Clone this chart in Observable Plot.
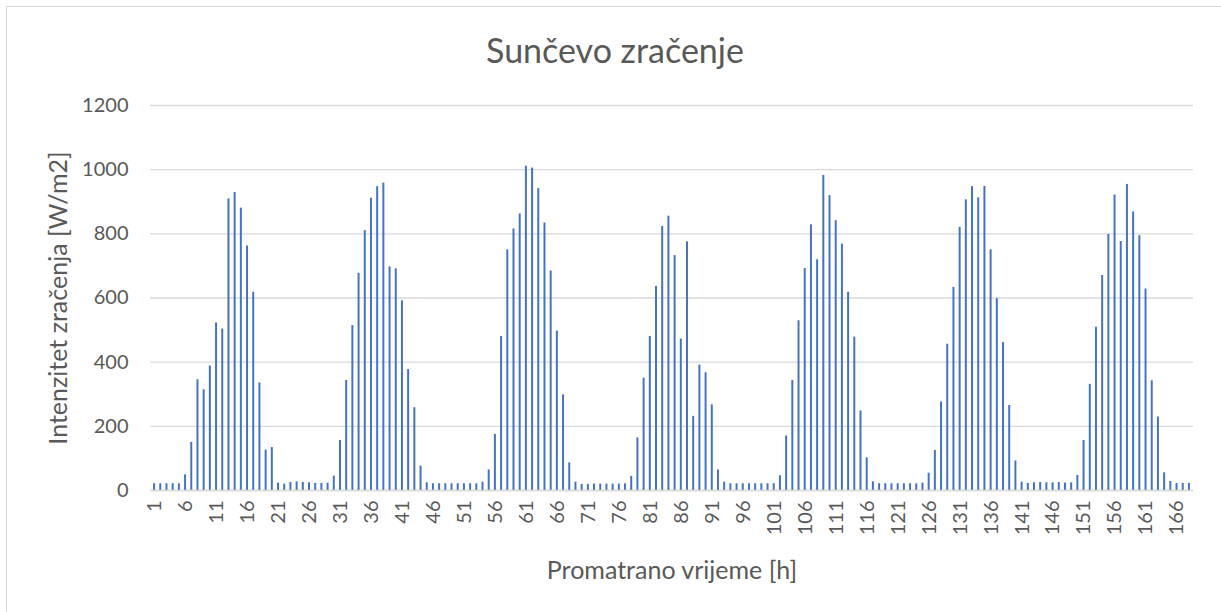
<!DOCTYPE html>
<html><head><meta charset="utf-8">
<script src="https://cdn.jsdelivr.net/npm/d3@7"></script>
<script src="https://cdn.jsdelivr.net/npm/@observablehq/plot@0.6"></script>
<style>
body{margin:0;overflow:hidden;background:#fff;}
#chart{position:absolute;left:0;top:0;}
#frame{position:absolute;left:6px;top:6px;width:1400px;height:800px;border:1px solid #d9d9d9;z-index:2;pointer-events:none;}
</style></head><body><div id="chart"></div><div id="frame"></div>
<script>
const titleText = "Sunčevo zračenje";
const yTitle = "Intenzitet zračenja [W/m2]";
const xTitle = "Promatrano vrijeme [h]";

const hours = Array.from({length:168}, (_, i) => i + 1);

const values = [
  21, 21, 21, 21, 21, 49, 150, 345, 314, 388, 522, 503, 909, 929, 880, 762, 618, 335, 126, 134,
  23, 20, 25, 27, 25, 24, 22, 22, 23, 45, 156, 343, 514, 677, 810, 911, 947, 958, 697, 691,
  591, 377, 258, 76, 24, 21, 21, 21, 21, 21, 21, 21, 21, 26, 64, 175, 480, 750, 815, 862,
  1011, 1005, 941, 834, 684, 497, 298, 86, 26, 19, 19, 20, 20, 20, 20, 20, 21, 44, 164, 350,
  480, 636, 823, 855, 732, 472, 775, 231, 391, 367, 267, 64, 26, 21, 21, 21, 21, 21, 21, 21,
  21, 46, 170, 343, 529, 692, 828, 719, 982, 919, 841, 768, 618, 478, 248, 102, 27, 21, 21, 21,
  21, 21, 21, 21, 23, 54, 125, 276, 456, 633, 820, 906, 947, 912, 948, 750, 598, 461, 265, 92,
  26, 22, 24, 25, 24, 24, 25, 23, 24, 47, 156, 331, 509, 670, 798, 921, 776, 954, 868, 794,
  628, 342, 229, 55, 28, 22, 22, 22
];

const yTicks = [0, 200, 400, 600, 800, 1000, 1200];
const xTickLabels = hours.filter(h => (h - 1) % 5 === 0);

const data = hours.map((h, i) => ({hour: h, value: values[i]}));

const chart = Plot.plot({
  width: 1221,
  height: 612,
  marginLeft: 150,
  marginRight: 28,
  marginTop: 105,
  marginBottom: 122,
  style: {fontFamily: "Lato, 'Open Sans', sans-serif", fontSize: "20px", color: "#595959", background: "transparent"},
  x: {type: "band", domain: hours, paddingInner: 0.68, paddingOuter: 0.5, label: null},
  y: {domain: [0, 1200], label: null},
  marks: [
    Plot.gridY(yTicks, {stroke: "#d9d9d9", strokeOpacity: 1, strokeWidth: 1.3}),
    Plot.barY(data, {x: "hour", y: "value", fill: "#4472c4"}),
    Plot.ruleY([0], {stroke: "#d9d9d9", strokeWidth: 1.3}),
    Plot.axisY(yTicks, {tickSize: 0, tickPadding: 22, fontSize: 20, fill: "#595959", tickFormat: d => String(d), label: null}),
    Plot.axisX(xTickLabels, {tickSize: 0, tickRotate: -90, tickPadding: 10, fontSize: 20, fill: "#595959", tickFormat: d => String(d), label: null}),
    Plot.text([titleText], {frameAnchor: "top", lineAnchor: "middle", dy: -53, dx: -57, fontSize: 34, fill: "#595959"}),
    Plot.text([yTitle], {frameAnchor: "left", lineAnchor: "middle", textAnchor: "middle", dx: -92, rotate: -90, fontSize: 25, fill: "#595959"}),
    Plot.text([xTitle], {frameAnchor: "bottom", lineAnchor: "middle", dy: 80, fontSize: 25, fill: "#595959"})
  ]
});
document.getElementById("chart").appendChild(chart);
</script>
</body></html>
